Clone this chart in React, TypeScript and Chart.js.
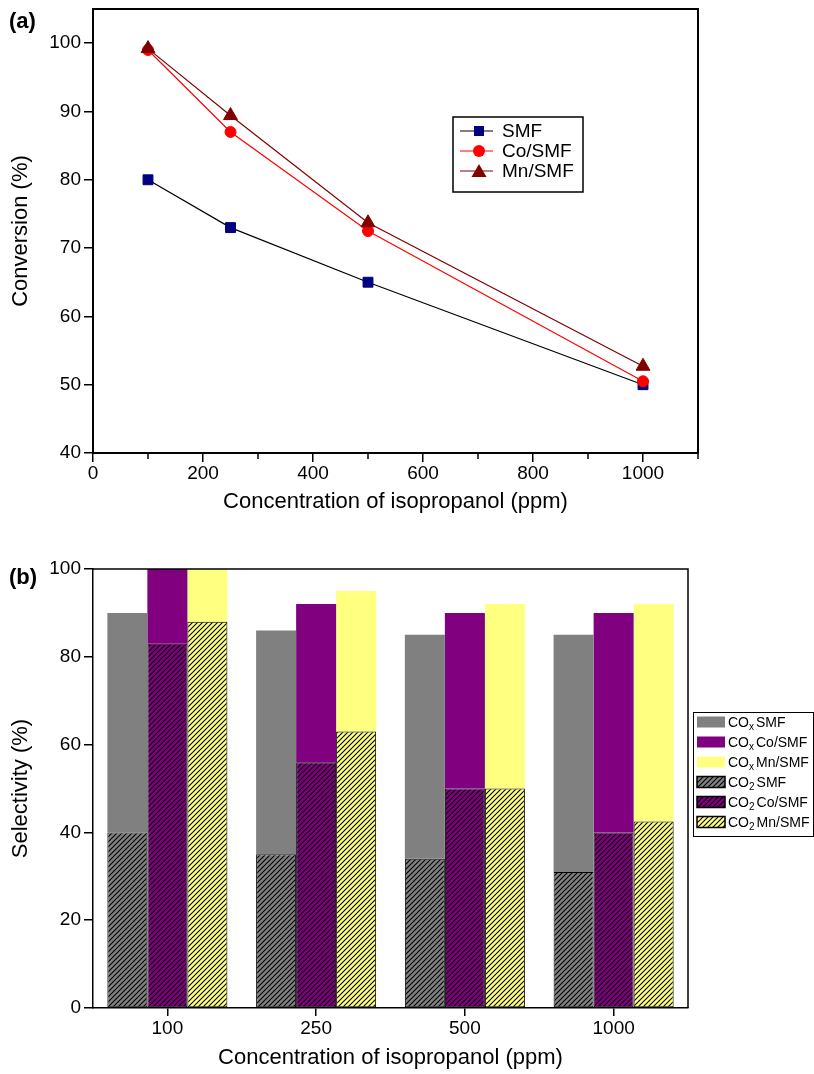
import React, { useEffect, useRef } from 'react';
import { Chart, registerables } from 'chart.js';
Chart.register(...registerables);

// ---------- data (a) ----------
const concentrations = [100, 250, 500, 1000];
const convSMF = [80, 73, 65, 50];
const convCo = [99, 87, 72.5, 50.5];
const convMn = [99.2, 89.4, 73.7, 52.7];
const xMajorTicksA = [0, 200, 400, 600, 800, 1000];
const xMinorTicksA = [100, 300, 500, 700, 900, 1100];
const yTicksA = [40, 50, 60, 70, 80, 90, 100];

// ---------- data (b) ----------
const categoriesB = ['100', '250', '500', '1000'];
const coxSMF = [90, 86, 85, 85];
const coxCo = [100, 92, 90, 90];
const coxMn = [100, 95, 92, 92];
const co2SMF = [40, 35, 34, 31];
const co2Co = [83, 56, 50, 40];
const co2Mn = [88, 63, 50, 42.5];
const yTicksB = [0, 20, 40, 60, 80, 100];

const FONT = '"Liberation Sans", Arial, Helvetica, sans-serif';
const TICK_SIZE = 19;
const TITLE_SIZE = 22;

const GRAY = '#808080';
const PURPLE = '#800080';
const YELLOW = '#FFFF80';

function makeHatch(bg: string): CanvasPattern {
  const c = document.createElement('canvas');
  const s = 5;
  c.width = s;
  c.height = s;
  const g = c.getContext('2d')!;
  g.fillStyle = bg;
  g.fillRect(0, 0, s, s);
  g.strokeStyle = '#000';
  g.lineWidth = 1.1;
  g.beginPath();
  g.moveTo(0, s);
  g.lineTo(s, 0);
  g.moveTo(-1, 1);
  g.lineTo(1, -1);
  g.moveTo(s - 1, s + 1);
  g.lineTo(s + 1, s - 1);
  g.stroke();
  return g.createPattern(c, 'repeat')!;
}

const framePlugin = (lw: number) => ({
  id: 'frame',
  afterDraw(chart: any) {
    const { ctx, chartArea: ca } = chart;
    ctx.save();
    ctx.strokeStyle = '#000';
    ctx.lineWidth = lw;
    ctx.beginPath();
    ctx.moveTo(ca.left, ca.top);
    ctx.lineTo(ca.right, ca.top);
    ctx.lineTo(ca.right, ca.bottom);
    ctx.stroke();
    ctx.restore();
  },
});

const panelLabel = (text: string, x: number, y: number) => ({
  id: 'panelLabel',
  afterDraw(chart: any) {
    const ctx = chart.ctx;
    ctx.save();
    ctx.fillStyle = '#000';
    ctx.font = `bold 22px ${FONT}`;
    ctx.textBaseline = 'middle';
    ctx.textAlign = 'left';
    ctx.fillText(text, x, y);
    ctx.restore();
  },
});

const minorTicksA = {
  id: 'minorTicksA',
  afterDraw(chart: any) {
    const { ctx } = chart;
    const xs = chart.scales.x;
    ctx.save();
    ctx.strokeStyle = '#000';
    ctx.lineWidth = 1.5;
    ctx.beginPath();
    xMinorTicksA.forEach((v) => {
      const px = xs.getPixelForValue(v);
      ctx.moveTo(px, xs.top);
      ctx.lineTo(px, xs.top + 6);
    });
    ctx.stroke();
    ctx.restore();
  },
};

const legendA = {
  id: 'legendA',
  afterDraw(chart: any) {
    const { ctx, chartArea: ca } = chart;
    const x = ca.left + 360;
    const y = ca.top + 108;
    const w = 130;
    const h = 75;
    ctx.save();
    ctx.fillStyle = '#fff';
    ctx.fillRect(x, y, w, h);
    ctx.strokeStyle = '#000';
    ctx.lineWidth = 1.5;
    ctx.strokeRect(x, y, w, h);
    const items = chart.data.datasets.slice().sort((a: any, b: any) => a.legendRank - b.legendRank);
    items.forEach((d: any, row: number) => {
      const cy = y + 14 + row * 20;
      ctx.strokeStyle = d.borderColor;
      ctx.lineWidth = 1.2;
      ctx.beginPath();
      ctx.moveTo(x + 7, cy);
      ctx.lineTo(x + 40, cy);
      ctx.stroke();
      ctx.fillStyle = d.pointBackgroundColor;
      const r = d.legendMarker;
      ctx.beginPath();
      if (d.pointStyle === 'rect') {
        ctx.fillRect(x + 26 - r, cy - r, 2 * r, 2 * r);
      } else if (d.pointStyle === 'circle') {
        ctx.arc(x + 26, cy, r + 1, 0, Math.PI * 2);
        ctx.fill();
      } else {
        ctx.moveTo(x + 26, cy - r - 1);
        ctx.lineTo(x + 26 + r + 1.5, cy + r);
        ctx.lineTo(x + 26 - r - 1.5, cy + r);
        ctx.closePath();
        ctx.fill();
      }
      ctx.fillStyle = '#000';
      ctx.font = `19px ${FONT}`;
      ctx.textBaseline = 'middle';
      ctx.textAlign = 'left';
      ctx.fillText(d.label, x + 49, cy + 1);
    });
    ctx.restore();
  },
};

function lineDs(label: string, data: number[], pointColor: string, lineColor: string, pointStyle: string, radius: number, order: number, legendRank: number, legendMarker: number) {
  return {
    label,
    data: concentrations.map((x, i) => ({ x, y: data[i] })),
    borderColor: lineColor,
    borderWidth: 1.2,
    backgroundColor: pointColor,
    pointBackgroundColor: pointColor,
    pointBorderColor: pointColor,
    pointBorderWidth: 1,
    pointStyle,
    pointRadius: radius,
    pointHoverRadius: radius,
    tension: 0,
    fill: false,
    order,
    legendRank,
    legendMarker,
  };
}

function configA(): any {
  return {
    type: 'line',
    data: {
      datasets: [
        lineDs('SMF', convSMF, '#000080', '#000000', 'rect', 7, 3, 0, 5),
        lineDs('Co/SMF', convCo, '#FF0000', '#FF0000', 'circle', 5.5, 2, 1, 5),
        lineDs('Mn/SMF', convMn, '#800000', '#800000', 'triangle', 8, 1, 2, 6),
      ],
    },
    options: {
      responsive: false,
      animation: false,
      events: [],
      layout: { padding: { left: 0, right: 116, top: 3, bottom: 0 } },
      plugins: { legend: { display: false }, tooltip: { enabled: false } },
      scales: {
        x: {
          type: 'linear',
          min: 0,
          max: 1100,
          afterBuildTicks: (s: any) => {
            s.ticks = xMajorTicksA.map((v) => ({ value: v }));
          },
          afterFit: (s: any) => {
            s.height = 77;
            s.paddingLeft = 0;
            s.paddingRight = 0;
          },
          grid: { drawOnChartArea: false, drawTicks: true, tickLength: 9, color: '#000', lineWidth: 1.5 },
          border: { display: true, color: '#000', width: 2 },
          ticks: {
            color: '#000',
            font: { family: FONT, size: TICK_SIZE },
            padding: 0,
            maxRotation: 0,
            autoSkip: false,
            callback: (v: any) => String(v),
          },
          title: {
            display: true,
            text: 'Concentration of isopropanol (ppm)',
            color: '#000',
            font: { family: FONT, size: TITLE_SIZE },
            padding: { top: 0, bottom: 15 },
          },
        },
        y: {
          type: 'linear',
          min: 40,
          max: 105,
          afterBuildTicks: (s: any) => {
            s.ticks = yTicksA.map((v) => ({ value: v }));
          },
          afterFit: (s: any) => {
            s.width = 93;
            s.paddingTop = 0;
            s.paddingBottom = 0;
          },
          grid: { drawOnChartArea: false, drawTicks: true, tickLength: 9, color: '#000', lineWidth: 1.5 },
          border: { display: true, color: '#000', width: 2 },
          ticks: { color: '#000', font: { family: FONT, size: TICK_SIZE }, padding: 3 },
          title: {
            display: true,
            text: 'Conversion (%)',
            color: '#000',
            font: { family: FONT, size: TITLE_SIZE },
            padding: { top: 8, bottom: 0 },
          },
        },
      },
    },
    plugins: [framePlugin(2), minorTicksA, legendA, panelLabel('(a)', 9, 22)],
  };
}

function drawChem(ctx: CanvasRenderingContext2D, x: number, y: number, sub: string, rest: string) {
  ctx.font = `14px ${FONT}`;
  ctx.fillText('CO', x, y);
  let cx = x + ctx.measureText('CO').width;
  ctx.font = `10px ${FONT}`;
  ctx.fillText(sub, cx, y + 4);
  cx += ctx.measureText(sub).width + 2;
  ctx.font = `14px ${FONT}`;
  ctx.fillText(rest, cx, y);
}

function configB(): any {
  const hGray = makeHatch(GRAY);
  const hPurple = makeHatch(PURPLE);
  const hYellow = makeHatch(YELLOW);
  const diff = (top: number[], base: number[]) => top.map((v, i) => v - base[i]);
  const common = { categoryPercentage: 0.807, barPercentage: 1.0 };
  const hatched = (label: string, data: number[], pat: CanvasPattern, stack: string, sub: string, rest: string, rank: number) => ({
    label,
    data,
    backgroundColor: pat,
    borderColor: '#000',
    borderWidth: 1,
    borderSkipped: false,
    stack,
    legendSub: sub,
    legendRest: rest,
    legendRank: rank,
    ...common,
  });
  const solid = (label: string, data: number[], color: string, stack: string, sub: string, rest: string, rank: number) => ({
    label,
    data,
    backgroundColor: color,
    borderWidth: 0,
    stack,
    legendSub: sub,
    legendRest: rest,
    legendRank: rank,
    ...common,
  });

  const legendB = {
    id: 'legendB',
    afterDraw(chart: any) {
      const { ctx, chartArea: ca } = chart;
      const x = ca.right + 5;
      const y = 182;
      const w = 121;
      const h = 124;
      ctx.save();
      ctx.fillStyle = '#fff';
      ctx.fillRect(x, y, w, h);
      ctx.strokeStyle = '#000';
      ctx.lineWidth = 1;
      ctx.strokeRect(x + 0.5, y + 0.5, w - 1, h);
      const items = chart.data.datasets.slice().sort((a: any, b: any) => a.legendRank - b.legendRank);
      items.forEach((d: any, row: number) => {
        const cy = y + 10 + row * 20;
        ctx.fillStyle = d.backgroundColor;
        ctx.fillRect(x + 4, cy - 5.5, 28, 11);
        if (d.borderWidth) {
          ctx.strokeStyle = '#000';
          ctx.lineWidth = 1.5;
          ctx.strokeRect(x + 4, cy - 5.5, 28, 11);
        }
        ctx.fillStyle = '#000';
        ctx.textBaseline = 'middle';
        ctx.textAlign = 'left';
        drawChem(ctx, x + 35, cy + 1, d.legendSub, d.legendRest);
      });
      ctx.restore();
    },
  };

  return {
    type: 'bar',
    data: {
      labels: categoriesB,
      datasets: [
        hatched('CO2 SMF', co2SMF, hGray, 'SMF', '2', 'SMF', 3),
        hatched('CO2 Co/SMF', co2Co, hPurple, 'Co', '2', 'Co/SMF', 4),
        hatched('CO2 Mn/SMF', co2Mn, hYellow, 'Mn', '2', 'Mn/SMF', 5),
        solid('COx SMF', diff(coxSMF, co2SMF), GRAY, 'SMF', 'x', 'SMF', 0),
        solid('COx Co/SMF', diff(coxCo, co2Co), PURPLE, 'Co', 'x', 'Co/SMF', 1),
        solid('COx Mn/SMF', diff(coxMn, co2Mn), YELLOW, 'Mn', 'x', 'Mn/SMF', 2),
      ],
    },
    options: {
      responsive: false,
      animation: false,
      events: [],
      layout: { padding: { left: 0, right: 126, top: 39, bottom: 0 } },
      plugins: { legend: { display: false }, tooltip: { enabled: false } },
      scales: {
        x: {
          stacked: true,
          afterFit: (s: any) => {
            s.height = 66;
            s.paddingLeft = 0;
            s.paddingRight = 0;
          },
          grid: { offset: false, drawOnChartArea: false, drawTicks: true, tickLength: 8, color: '#000', lineWidth: 1.5 },
          border: { display: true, color: '#000', width: 1.5 },
          ticks: { color: '#000', font: { family: FONT, size: TICK_SIZE }, padding: 1, maxRotation: 0 },
          title: {
            display: true,
            text: 'Concentration of isopropanol (ppm)',
            color: '#000',
            font: { family: FONT, size: TITLE_SIZE },
            padding: { top: 0, bottom: 3 },
          },
        },
        y: {
          stacked: true,
          min: 0,
          max: 100,
          afterBuildTicks: (s: any) => {
            s.ticks = yTicksB.map((v) => ({ value: v }));
          },
          afterFit: (s: any) => {
            s.width = 93;
            s.paddingTop = 0;
            s.paddingBottom = 0;
          },
          grid: { drawOnChartArea: false, drawTicks: true, tickLength: 9, color: '#000', lineWidth: 1.5 },
          border: { display: true, color: '#000', width: 1.5 },
          ticks: { color: '#000', font: { family: FONT, size: TICK_SIZE }, padding: 3 },
          title: {
            display: true,
            text: 'Selectivity (%)',
            color: '#000',
            font: { family: FONT, size: TITLE_SIZE },
            padding: { top: 8, bottom: 0 },
          },
        },
      },
    },
    plugins: [framePlugin(1.5), legendB, panelLabel('(b)', 9, 48)],
  };
}

export default function App() {
  const refA = useRef<HTMLCanvasElement>(null);
  const refB = useRef<HTMLCanvasElement>(null);
  useEffect(() => {
    const a = new Chart(refA.current!, configA());
    const b = new Chart(refB.current!, configB());
    return () => {
      a.destroy();
      b.destroy();
    };
  }, []);
  return (
    <div style={{ position: 'fixed', left: 0, top: 0, width: 814, height: 1074, background: '#fff' }}>
      <canvas ref={refA} width={814} height={530} style={{ position: 'absolute', left: 0, top: 0, display: 'block' }} />
      <canvas ref={refB} width={814} height={544} style={{ position: 'absolute', left: 0, top: 530, display: 'block' }} />
    </div>
  );
}
